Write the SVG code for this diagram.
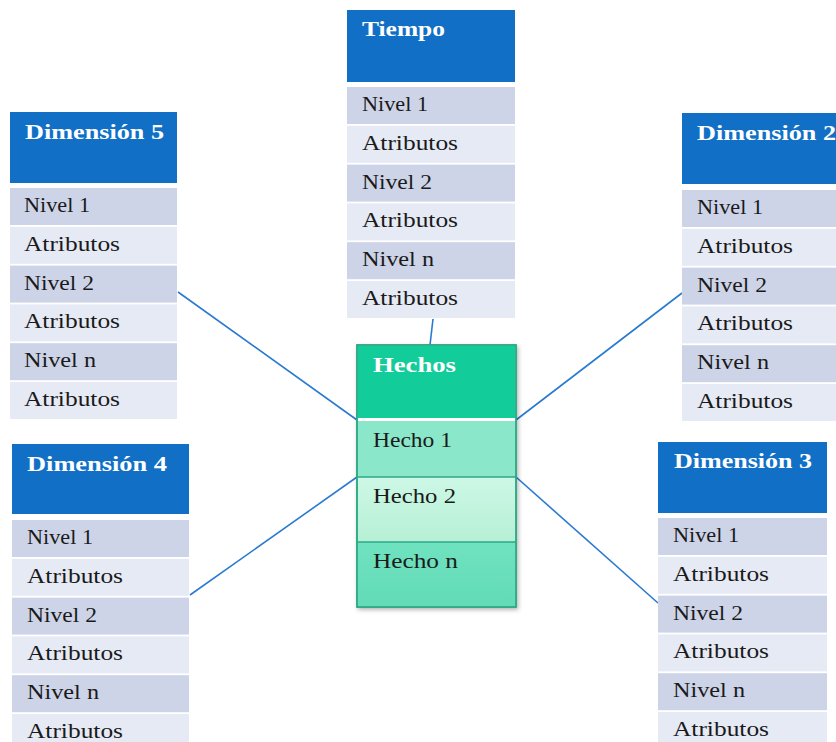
<svg xmlns="http://www.w3.org/2000/svg" width="836" height="742" viewBox="0 0 836 742">
  <style>
    .hdr { fill: #1170c6; }
    .lvl { fill: #cdd4e8; }
    .att { fill: #e6eaf5; }
    .title { font-family: "Liberation Serif", serif; font-size: 20px; font-weight: bold; fill: #ffffff; }
    .cell { font-family: "Liberation Serif", serif; font-size: 20px; fill: #1a1a1a; }
    .link { stroke: #2a7ad0; stroke-width: 1.6; fill: none; }
    .fbox { stroke: #2aa884; stroke-width: 1.5; }
  </style>
  <defs>
    <linearGradient id="h2" x1="0" y1="0" x2="0" y2="1">
      <stop offset="0" stop-color="#cdf8e6"/>
      <stop offset="1" stop-color="#b7f0d5"/>
    </linearGradient>
    <linearGradient id="hn" x1="0" y1="0" x2="0" y2="1">
      <stop offset="0" stop-color="#70e2c0"/>
      <stop offset="1" stop-color="#62dbb6"/>
    </linearGradient>
    <filter id="shadow" x="-10%" y="-10%" width="130%" height="120%">
      <feDropShadow dx="1.5" dy="2" stdDeviation="2" flood-color="#000000" flood-opacity="0.3"/>
    </filter>
  </defs>

  <!-- connectors between the fact table and each dimension -->
  <g id="connectors">
    <line class="link" x1="433" y1="319" x2="430" y2="345"/>
    <line class="link" x1="178" y1="292" x2="357" y2="420"/>
    <line class="link" x1="682" y1="293" x2="516" y2="420"/>
    <line class="link" x1="190" y1="595" x2="357" y2="477"/>
    <line class="link" x1="658" y1="603" x2="516" y2="477"/>
  </g>

  <!-- Tiempo -->
  <g id="tiempo">
    <rect class="hdr" x="347" y="10" width="168" height="72"/>
    <text class="title" x="362" y="36" textLength="83" lengthAdjust="spacingAndGlyphs">Tiempo</text>
    <rect class="lvl" x="347" y="87" width="168" height="37"/>
    <rect class="att" x="347" y="125.8" width="168" height="37"/>
    <rect class="lvl" x="347" y="164.6" width="168" height="37"/>
    <rect class="att" x="347" y="203.4" width="168" height="37"/>
    <rect class="lvl" x="347" y="242.2" width="168" height="37"/>
    <rect class="att" x="347" y="281" width="168" height="37"/>
    <text class="cell" x="362" y="111" textLength="66" lengthAdjust="spacingAndGlyphs">Nivel 1</text>
    <text class="cell" x="362" y="149.8" textLength="96" lengthAdjust="spacingAndGlyphs">Atributos</text>
    <text class="cell" x="362" y="188.6" textLength="70" lengthAdjust="spacingAndGlyphs">Nivel 2</text>
    <text class="cell" x="362" y="227.4" textLength="96" lengthAdjust="spacingAndGlyphs">Atributos</text>
    <text class="cell" x="362" y="266.2" textLength="72" lengthAdjust="spacingAndGlyphs">Nivel n</text>
    <text class="cell" x="362" y="305" textLength="96" lengthAdjust="spacingAndGlyphs">Atributos</text>
  </g>

  <!-- Dimensión 5 -->
  <g id="dimension5">
    <rect class="hdr" x="10" y="112" width="167" height="71"/>
    <text class="title" x="25" y="139" textLength="139" lengthAdjust="spacingAndGlyphs">Dimensión 5</text>
    <rect class="lvl" x="10" y="188" width="167" height="37"/>
    <rect class="att" x="10" y="226.8" width="167" height="37"/>
    <rect class="lvl" x="10" y="265.6" width="167" height="37"/>
    <rect class="att" x="10" y="304.4" width="167" height="37"/>
    <rect class="lvl" x="10" y="343.2" width="167" height="37"/>
    <rect class="att" x="10" y="382" width="167" height="37"/>
    <text class="cell" x="24" y="212" textLength="66" lengthAdjust="spacingAndGlyphs">Nivel 1</text>
    <text class="cell" x="24" y="250.8" textLength="96" lengthAdjust="spacingAndGlyphs">Atributos</text>
    <text class="cell" x="24" y="289.6" textLength="70" lengthAdjust="spacingAndGlyphs">Nivel 2</text>
    <text class="cell" x="24" y="328.4" textLength="96" lengthAdjust="spacingAndGlyphs">Atributos</text>
    <text class="cell" x="24" y="367.2" textLength="72" lengthAdjust="spacingAndGlyphs">Nivel n</text>
    <text class="cell" x="24" y="406" textLength="96" lengthAdjust="spacingAndGlyphs">Atributos</text>
  </g>

  <!-- Dimensión 2 -->
  <g id="dimension2">
    <rect class="hdr" x="682" y="113" width="168" height="71"/>
    <text class="title" x="697" y="140" textLength="139" lengthAdjust="spacingAndGlyphs">Dimensión 2</text>
    <rect class="lvl" x="682" y="190" width="168" height="37"/>
    <rect class="att" x="682" y="228.8" width="168" height="37"/>
    <rect class="lvl" x="682" y="267.6" width="168" height="37"/>
    <rect class="att" x="682" y="306.4" width="168" height="37"/>
    <rect class="lvl" x="682" y="345.2" width="168" height="37"/>
    <rect class="att" x="682" y="384" width="168" height="37"/>
    <text class="cell" x="697" y="214" textLength="66" lengthAdjust="spacingAndGlyphs">Nivel 1</text>
    <text class="cell" x="697" y="252.8" textLength="96" lengthAdjust="spacingAndGlyphs">Atributos</text>
    <text class="cell" x="697" y="291.6" textLength="70" lengthAdjust="spacingAndGlyphs">Nivel 2</text>
    <text class="cell" x="697" y="330.4" textLength="96" lengthAdjust="spacingAndGlyphs">Atributos</text>
    <text class="cell" x="697" y="369.2" textLength="72" lengthAdjust="spacingAndGlyphs">Nivel n</text>
    <text class="cell" x="697" y="408" textLength="96" lengthAdjust="spacingAndGlyphs">Atributos</text>
  </g>

  <!-- Dimensión 4 -->
  <g id="dimension4">
    <rect class="hdr" x="12" y="444" width="177" height="70"/>
    <text class="title" x="27" y="471" textLength="140" lengthAdjust="spacingAndGlyphs">Dimensión 4</text>
    <rect class="lvl" x="12" y="520" width="177" height="37"/>
    <rect class="att" x="12" y="558.8" width="177" height="37"/>
    <rect class="lvl" x="12" y="597.6" width="177" height="37"/>
    <rect class="att" x="12" y="636.4" width="177" height="37"/>
    <rect class="lvl" x="12" y="675.2" width="177" height="37"/>
    <rect class="att" x="12" y="714" width="177" height="37"/>
    <text class="cell" x="27" y="544" textLength="66" lengthAdjust="spacingAndGlyphs">Nivel 1</text>
    <text class="cell" x="27" y="582.8" textLength="96" lengthAdjust="spacingAndGlyphs">Atributos</text>
    <text class="cell" x="27" y="621.6" textLength="70" lengthAdjust="spacingAndGlyphs">Nivel 2</text>
    <text class="cell" x="27" y="660.4" textLength="96" lengthAdjust="spacingAndGlyphs">Atributos</text>
    <text class="cell" x="27" y="699.2" textLength="72" lengthAdjust="spacingAndGlyphs">Nivel n</text>
    <text class="cell" x="27" y="738" textLength="96" lengthAdjust="spacingAndGlyphs">Atributos</text>
  </g>

  <!-- Dimensión 3 -->
  <g id="dimension3">
    <rect class="hdr" x="658" y="442" width="169" height="71"/>
    <text class="title" x="674" y="468" textLength="138" lengthAdjust="spacingAndGlyphs">Dimensión 3</text>
    <rect class="lvl" x="658" y="518" width="169" height="37"/>
    <rect class="att" x="658" y="556.8" width="169" height="37"/>
    <rect class="lvl" x="658" y="595.6" width="169" height="37"/>
    <rect class="att" x="658" y="634.4" width="169" height="37"/>
    <rect class="lvl" x="658" y="673.2" width="169" height="37"/>
    <rect class="att" x="658" y="712" width="169" height="37"/>
    <text class="cell" x="673" y="542" textLength="66" lengthAdjust="spacingAndGlyphs">Nivel 1</text>
    <text class="cell" x="673" y="580.8" textLength="96" lengthAdjust="spacingAndGlyphs">Atributos</text>
    <text class="cell" x="673" y="619.6" textLength="70" lengthAdjust="spacingAndGlyphs">Nivel 2</text>
    <text class="cell" x="673" y="658.4" textLength="96" lengthAdjust="spacingAndGlyphs">Atributos</text>
    <text class="cell" x="673" y="697.2" textLength="72" lengthAdjust="spacingAndGlyphs">Nivel n</text>
    <text class="cell" x="673" y="736" textLength="96" lengthAdjust="spacingAndGlyphs">Atributos</text>
  </g>

  <!-- Hechos: fact table -->
  <g id="hechos">
    <g filter="url(#shadow)">
      <rect x="357" y="345" width="159" height="262" fill="#ffffff" class="fbox"/>
    </g>
    <rect x="358" y="346" width="157" height="72" fill="#12cc9a"/>
    <rect x="358" y="421" width="157" height="56" fill="#8ae7c9"/>
    <rect x="358" y="477" width="157" height="65" fill="url(#h2)"/>
    <rect x="358" y="542" width="157" height="64" fill="url(#hn)"/>
    <rect x="357" y="345" width="159" height="262" fill="none" class="fbox"/>
    <line x1="357" y1="477" x2="516" y2="477" class="fbox"/>
    <line x1="357" y1="542" x2="516" y2="542" class="fbox"/>
    <text class="title" x="373" y="372" textLength="83" lengthAdjust="spacingAndGlyphs">Hechos</text>
    <text class="cell" x="373" y="447" textLength="79" lengthAdjust="spacingAndGlyphs">Hecho 1</text>
    <text class="cell" x="373" y="503" textLength="83" lengthAdjust="spacingAndGlyphs">Hecho 2</text>
    <text class="cell" x="373" y="568" textLength="85" lengthAdjust="spacingAndGlyphs">Hecho n</text>
  </g>
</svg>
